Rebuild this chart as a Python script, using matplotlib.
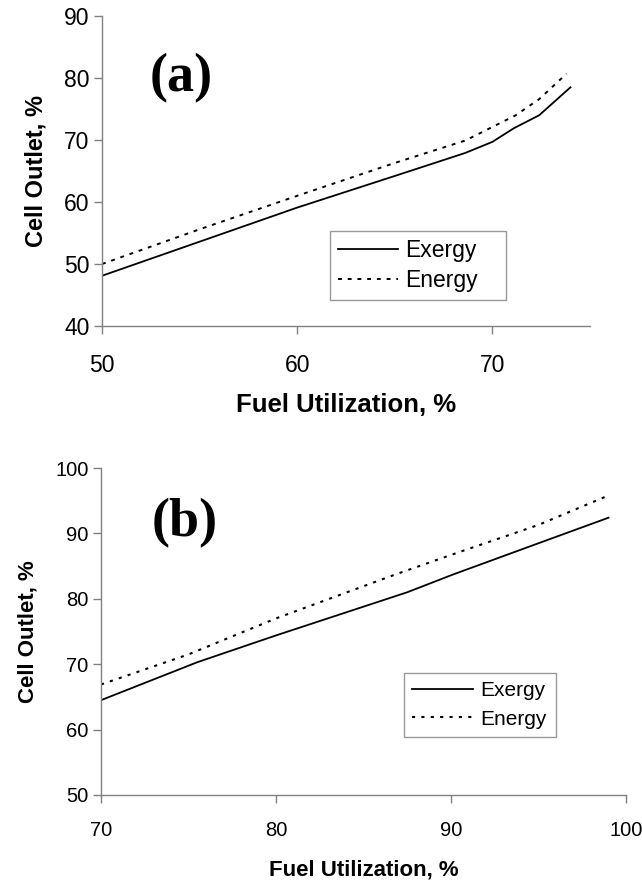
import matplotlib
matplotlib.use("Agg")
import matplotlib.pyplot as plt

# Panel (a)
a_exergy_x = [50, 55, 60, 65, 68.6, 70, 71.1, 72.4, 74.0]
a_exergy_y = [48.1, 53.6, 59.1, 64.2, 67.9, 69.7, 71.9, 74.0, 78.5]
a_energy_x = [50, 55, 60, 65, 68.6, 70, 71.2, 72.4, 73.8]
a_energy_y = [50.0, 55.6, 61.0, 66.3, 69.9, 72.1, 74.0, 76.6, 80.7]

# Panel (b)
b_exergy_x = [70, 75.5, 80, 87.5, 90.1, 94.8, 99]
b_exergy_y = [64.5, 70.3, 74.4, 81.0, 83.7, 88.3, 92.4]
b_energy_x = [70, 75, 80, 86.8, 90.1, 95, 99]
b_energy_y = [66.9, 71.5, 77.0, 83.7, 86.8, 91.3, 95.8]

a_xticks = [50, 60, 70]
a_yticks = [40, 50, 60, 70, 80, 90]
b_xticks = [70, 80, 90, 100]
b_yticks = [50, 60, 70, 80, 90, 100]

plt.rcParams['font.family'] = ['Liberation Sans', 'DejaVu Sans']

fig = plt.figure(figsize=(6.42, 8.84), dpi=100)
ax1 = fig.add_axes([102/642, 1-326/884, 488/642, 310/884])
ax2 = fig.add_axes([101/642, 1-795/884, 525/642, 327/884])

def style(ax, xlim, ylim, xt, yt, label, lx, ly, tsize, xlsize, ylsize, lsize,
          xpad, xlpad, ylpad):
    ax.set_xlim(*xlim)
    ax.set_ylim(*ylim)
    ax.set_xticks(xt)
    ax.set_yticks(yt)
    for s in ['top', 'right']:
        ax.spines[s].set_visible(False)
    for s in ['left', 'bottom']:
        ax.spines[s].set_color('#808080')
        ax.spines[s].set_linewidth(1.0)
    ax.tick_params(axis='both', direction='out', length=6, color='#808080',
                   labelsize=tsize, width=1.0)
    ax.tick_params(axis='x', pad=xpad)
    ax.tick_params(axis='y', pad=3)
    ax.set_xlabel('Fuel Utilization, %', fontsize=xlsize, fontweight='bold', labelpad=xlpad)
    ax.set_ylabel('Cell Outlet, %', fontsize=ylsize, fontweight='bold', labelpad=ylpad)
    ax.text(lx, ly, label, transform=ax.transAxes, fontsize=lsize, fontweight='bold',
            family='Liberation Serif', ha='left', va='center')

ax1.plot(a_exergy_x, a_exergy_y, color='black', lw=1.3, label='Exergy')
ax1.plot(a_energy_x, a_energy_y, color='black', lw=1.4, ls=(0, (2, 3)), label='Energy')
style(ax1, (50, 75), (40, 90), a_xticks, a_yticks, '(a)', 0.098, 0.80,
      16.5, 18.5, 17, 39, 14, 12, 12)
leg1 = ax1.legend(loc='lower left', bbox_to_anchor=(0.467, 0.084, 0.361, 0.235),
                  mode='expand', fontsize=16.5, frameon=True, fancybox=False,
                  edgecolor='#808080', handlelength=2.6, borderpad=0.35,
                  labelspacing=0.3, handletextpad=0.35, borderaxespad=0)
leg1.get_frame().set_linewidth(1.0)

ax2.plot(b_exergy_x, b_exergy_y, color='black', lw=1.3, label='Exergy')
ax2.plot(b_energy_x, b_energy_y, color='black', lw=1.5, ls=(0, (1.5, 3)), label='Energy')
style(ax2, (70, 100), (50, 100), b_xticks, b_yticks, '(b)', 0.097, 0.832,
      14.5, 16, 16, 39, 13, 14, 12)
leg2 = ax2.legend(loc='lower left', bbox_to_anchor=(0.577, 0.177, 0.29, 0.227),
                  mode='expand', fontsize=15, frameon=True, fancybox=False,
                  edgecolor='#808080', handlelength=2.9, borderpad=0.4,
                  labelspacing=0.45, handletextpad=0.35, borderaxespad=0)
leg2.get_frame().set_linewidth(1.0)

fig.savefig('out.png', dpi=100)
